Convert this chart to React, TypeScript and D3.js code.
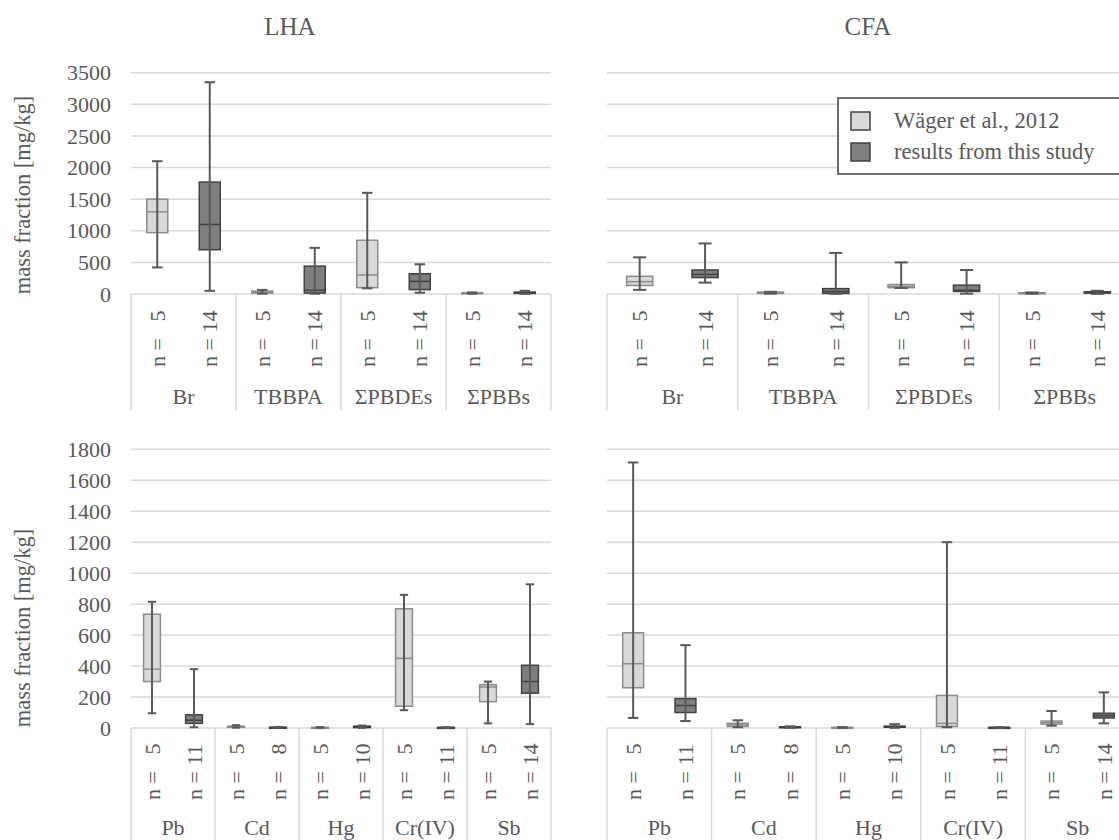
import React from 'react';
import * as d3 from 'd3';

// ---------- data ----------
const topCategories = ['Br', 'TBBPA', 'ΣPBDEs', 'ΣPBBs'];
const bottomCategories = ['Pb', 'Cd', 'Hg', 'Cr(IV)', 'Sb'];
const seriesNames = ['Wäger et al., 2012', 'results from this study'];
const panelTitles = ['LHA', 'CFA'];
const yAxisLabel = 'mass fraction [mg/kg]';

const topCounts = [[5, 14], [5, 14], [5, 14], [5, 14]];
const bottomCounts = [[5, 11], [5, 8], [5, 10], [5, 11], [5, 14]];

const topTicks = [0, 500, 1000, 1500, 2000, 2500, 3000, 3500];
const bottomTicks = [0, 200, 400, 600, 800, 1000, 1200, 1400, 1600, 1800];

// [min, q1, median, q3, max]
const lhaTopWager = [
  [420, 970, 1300, 1500, 2100],
  [5, 15, 30, 45, 65],
  [90, 100, 300, 850, 1600],
  [5, 10, 15, 20, 25],
];
const lhaTopStudy = [
  [50, 700, 1100, 1770, 3350],
  [5, 15, 60, 440, 730],
  [20, 70, 200, 320, 470],
  [2, 10, 20, 30, 50],
];
const cfaTopWager = [
  [65, 135, 195, 280, 580],
  [5, 10, 20, 30, 35],
  [95, 100, 120, 150, 500],
  [5, 10, 15, 20, 25],
];
const cfaTopStudy = [
  [180, 260, 310, 380, 800],
  [2, 10, 40, 85, 650],
  [5, 40, 60, 140, 380],
  [2, 15, 25, 35, 50],
];
const lhaBottomWager = [
  [95, 300, 380, 735, 815],
  [2, 5, 8, 12, 18],
  [1, 2, 3, 4, 5],
  [115, 140, 450, 770, 860],
  [30, 170, 265, 280, 300],
];
const lhaBottomStudy = [
  [5, 30, 50, 85, 380],
  [1, 2, 3, 5, 7],
  [1, 3, 6, 12, 16],
  [1, 2, 3, 4, 5],
  [25, 225, 300, 405, 928],
];
const cfaBottomWager = [
  [65, 260, 415, 615, 1715],
  [5, 10, 20, 30, 50],
  [1, 2, 3, 4, 5],
  [5, 10, 30, 210, 1200],
  [15, 25, 35, 45, 110],
];
const cfaBottomStudy = [
  [45, 100, 145, 190, 535],
  [1, 3, 5, 8, 11],
  [1, 5, 8, 12, 25],
  [1, 2, 3, 4, 5],
  [30, 65, 80, 95, 230],
];

// ---------- styles ----------
const FONT = '"Liberation Serif", "Times New Roman", serif';
const TEXT = '#595959';
const GRID = '#d9d9d9';
const boxStyles = [
  { fill: '#d9d9d9', stroke: '#8c8c8c', median: '#8c8c8c' },
  { fill: '#7f7f7f', stroke: '#404040', median: '#404040' },
];
const WHISKER = '#595959';
const FS = 22;

type PanelProps = {
  categories: string[];
  counts: number[][];
  data: number[][][];
  domainMax: number;
  yRange: [number, number];
  xRange: [number, number];
  gridRight: number;
  ticks: number[];
  showTicks: boolean;
  axisBottom: number;
  nStartY: number;
  catY: number;
};

function Panel(p: PanelProps) {
  const y = d3.scaleLinear().domain([0, p.domainMax]).range(p.yRange);
  const x = d3.scaleBand<string>().domain(p.categories).range(p.xRange).padding(0);
  const sub = d3.scaleBand<string>().domain(['0', '1']).range([0, x.bandwidth()]).padding(0);
  const boxW = sub.bandwidth() * 0.4;
  const capW = boxW / 2;
  const y0 = y(0);
  const bounds = p.categories.map((c) => x(c) as number).concat([p.xRange[1]]);
  return (
    <g>
      {p.ticks.map((t) => (
        <line key={'g' + t} x1={p.xRange[0]} x2={p.gridRight} y1={y(t)} y2={y(t)} stroke={GRID} strokeWidth={1.5} />
      ))}
      {bounds.map((bx, i) => (
        <line key={'v' + i} x1={bx} x2={bx} y1={y0} y2={p.axisBottom} stroke={GRID} strokeWidth={1.5} />
      ))}
      {p.showTicks &&
        p.ticks.map((t) => (
          <text key={'t' + t} x={111} y={y(t)} dy="0.35em" textAnchor="end" fontSize={FS} fill={TEXT} fontFamily={FONT}>
            {t}
          </text>
        ))}
      {p.categories.map((c, ci) =>
        [0, 1].map((si) => {
          const cx = (x(c) as number) + (sub(String(si)) as number) + sub.bandwidth() / 2;
          const [mn, q1, md, q3, mx] = p.data[si][ci];
          const st = boxStyles[si];
          return (
            <g key={c + si}>
              <rect x={cx - boxW / 2} y={y(q3)} width={boxW} height={Math.max(y(q1) - y(q3), 1)} fill={st.fill} stroke={st.stroke} strokeWidth={1.5} />
              <line x1={cx - boxW / 2} x2={cx + boxW / 2} y1={y(md)} y2={y(md)} stroke={st.median} strokeWidth={1.5} />
              <line x1={cx} x2={cx} y1={y(mn)} y2={y(mx)} stroke={WHISKER} strokeWidth={2} />
              <line x1={cx - capW / 2} x2={cx + capW / 2} y1={y(mx)} y2={y(mx)} stroke={WHISKER} strokeWidth={2} />
              <line x1={cx - capW / 2} x2={cx + capW / 2} y1={y(mn)} y2={y(mn)} stroke={WHISKER} strokeWidth={2} />
              <text
                transform={`translate(${cx},${p.nStartY}) rotate(-90)`}
                dy="0.35em"
                fontSize={FS}
                fill={TEXT}
                fontFamily={FONT}
                style={{ whiteSpace: 'pre' }}
              >
                {'n = ' + (p.counts[ci][si] < 10 ? '  ' : '') + p.counts[ci][si]}
              </text>
            </g>
          );
        })
      )}
      {p.categories.map((c) => (
        <text key={'c' + c} x={(x(c) as number) + x.bandwidth() / 2} y={p.catY} textAnchor="middle" fontSize={FS} fill={TEXT} fontFamily={FONT}>
          {c}
        </text>
      ))}
    </g>
  );
}

export default function App() {
  const W = 1119;
  const H = 840;
  const topY: [number, number] = [294, 72.7];
  const botY: [number, number] = [728, 449.3];
  const leftX: [number, number] = [131, 551];
  const rightX: [number, number] = [607, 1130];
  return (
    <svg width={W} height={H} style={{ position: 'absolute', left: 0, top: 0, background: '#fff' }}>
      <rect x={0} y={0} width={W} height={H} fill="#fff" />
      <text x={290} y={35} textAnchor="middle" fontSize={25} fill={TEXT} fontFamily={FONT}>{panelTitles[0]}</text>
      <text x={868} y={35} textAnchor="middle" fontSize={25} fill={TEXT} fontFamily={FONT}>{panelTitles[1]}</text>
      <text transform="translate(22,195) rotate(-90)" dy="0.35em" textAnchor="middle" fontSize={22.5} fill={TEXT} fontFamily={FONT}>{yAxisLabel}</text>
      <text transform="translate(22,628) rotate(-90)" dy="0.35em" textAnchor="middle" fontSize={22.5} fill={TEXT} fontFamily={FONT}>{yAxisLabel}</text>

      <Panel categories={topCategories} counts={topCounts} data={[lhaTopWager, lhaTopStudy]} domainMax={3500}
        yRange={topY} xRange={leftX} gridRight={551} ticks={topTicks} showTicks={true} axisBottom={410} nStartY={367} catY={404} />
      <Panel categories={topCategories} counts={topCounts} data={[cfaTopWager, cfaTopStudy]} domainMax={3500}
        yRange={topY} xRange={rightX} gridRight={1130} ticks={topTicks} showTicks={false} axisBottom={410} nStartY={367} catY={404} />
      <Panel categories={bottomCategories} counts={bottomCounts} data={[lhaBottomWager, lhaBottomStudy]} domainMax={1800}
        yRange={botY} xRange={leftX} gridRight={551} ticks={bottomTicks} showTicks={true} axisBottom={840} nStartY={800} catY={835} />
      <Panel categories={bottomCategories} counts={bottomCounts} data={[cfaBottomWager, cfaBottomStudy]} domainMax={1800}
        yRange={botY} xRange={rightX} gridRight={1130} ticks={bottomTicks} showTicks={false} axisBottom={840} nStartY={800} catY={835} />

      {/* legend */}
      <rect x={838} y={98} width={300} height={76} fill="#fff" stroke="#404040" strokeWidth={1.5} />
      {seriesNames.map((s, i) => (
        <g key={s}>
          <rect x={851} y={112 + i * 31} width={19} height={18} fill={boxStyles[i].fill} stroke="#404040" strokeWidth={1.5} />
          <text x={894} y={128 + i * 31} fontSize={22.5} fill={TEXT} fontFamily={FONT}>{s}</text>
        </g>
      ))}
    </svg>
  );
}
